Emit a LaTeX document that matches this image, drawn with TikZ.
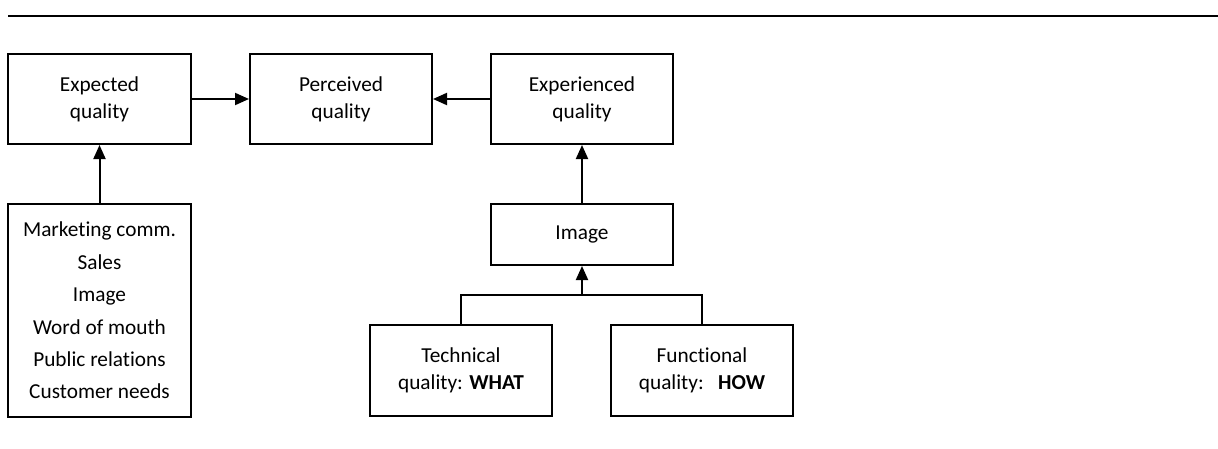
\documentclass[tikz,border=0pt]{standalone}
\usepackage{fontspec}
\setmainfont[Ligatures=NoCommon]{Carlito}
\usetikzlibrary{arrows.meta}
\begin{document}
\begin{tikzpicture}[x=1pt,y=-1pt,
  box/.style={draw, line width=2pt, align=center, inner sep=0pt,
    font=\fontsize{21.3}{27}\selectfont},
  link/.style={line width=2pt, -{Triangle[length=14pt,width=12pt]}},
  plain/.style={line width=2pt}]
\useasboundingbox (0,0) rectangle (1218,448);
% heading rule
\coordinate (ruleL) at (8,16);
\coordinate (ruleR) at (1218,16);
\draw[line width=2.4pt] (ruleL) -- (ruleR);
% quality boxes
\node[box, minimum width=183, minimum height=90] (exp) at (99.5,99) {Expected\\quality};
\node[box, minimum width=182, minimum height=90] (perc) at (341,99) {Perceived\\quality};
\node[box, minimum width=182, minimum height=90] (expd) at (582,99) {Experienced\\quality};
% sources of expectations
\node[box, minimum width=183, minimum height=213,
  font=\fontsize{21.3}{32.4}\selectfont] (list) at (99.5,310.5)
  {Marketing comm.\\Sales\\Image\\Word of mouth\\Public relations\\Customer needs};
% image and its two dimensions
\node[box, minimum width=182, minimum height=61] (img) at (582,234.5) {Image};
\node[box, minimum width=182, minimum height=91] (tech) at (461,370.5) {Technical\\quality: \textbf{WHAT}};
\node[box, minimum width=182, minimum height=91] (func) at (702,370.5) {Functional\\quality:\ \ \ \textbf{HOW}};
\coordinate (join) at (582,295);
% connectors
\draw[link] (exp.east) -- (perc.west);
\draw[link] (expd.west) -- (perc.east);
\draw[link] (list.north) -- (exp.south);
\draw[link] (img.north) -- (expd.south);
\draw[plain] (tech.north) |- (join) -| (func.north);
\draw[link] (join) -- (img.south);
\end{tikzpicture}
\end{document}
